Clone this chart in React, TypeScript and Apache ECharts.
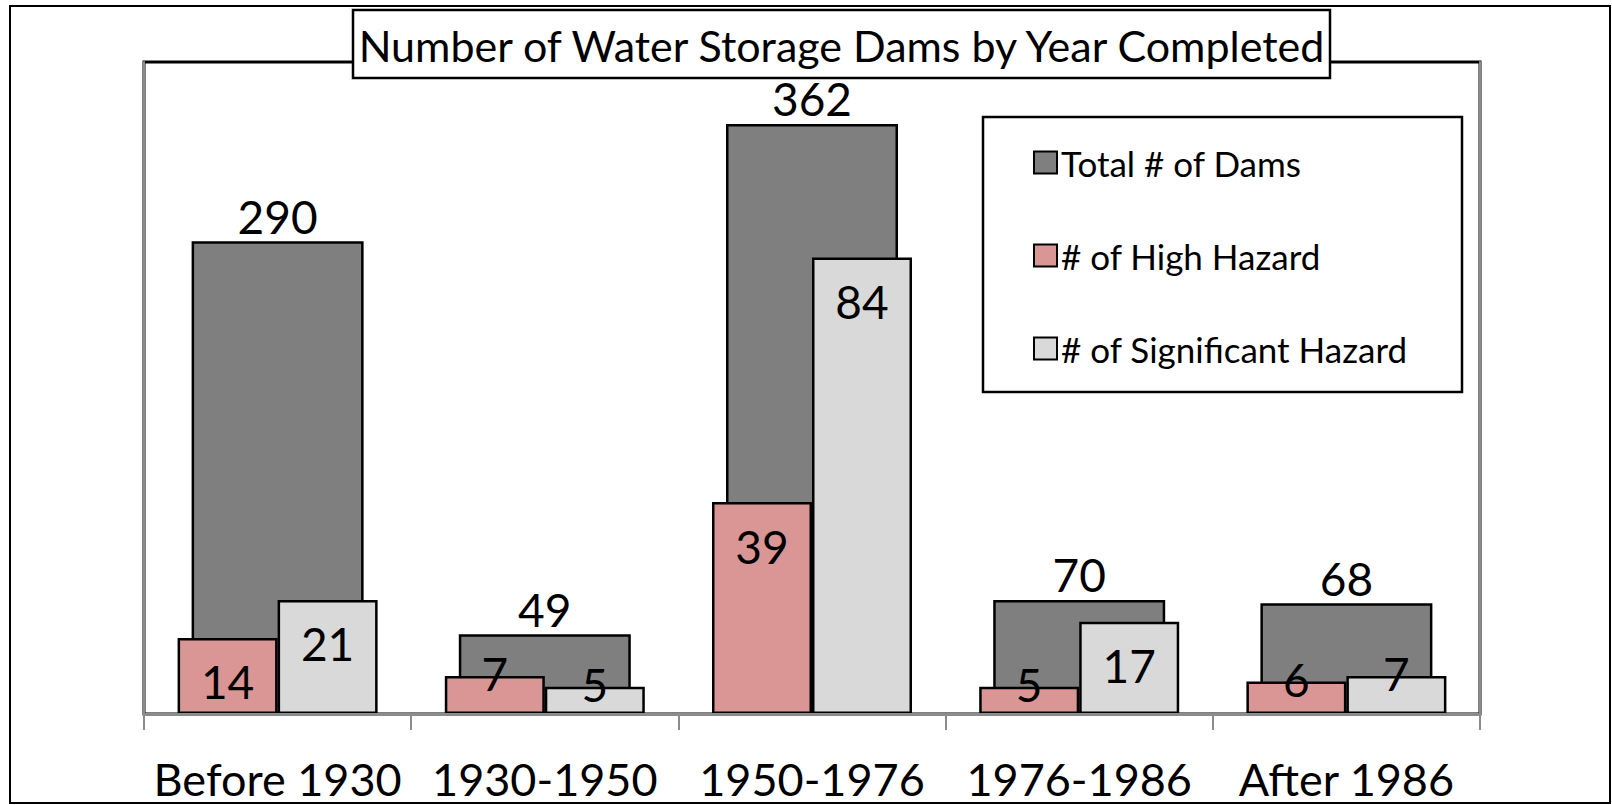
import React, { useEffect, useRef } from "react";
import * as echarts from "echarts";

const categories = ["Before 1930", "1930-1950", "1950-1976", "1976-1986", "After 1986"];
const totalDams = [290, 49, 362, 70, 68];
const highHazard = [14, 7, 39, 5, 6];
const significantHazard = [21, 5, 84, 17, 7];
const titleText = "Number of Water Storage Dams by Year Completed";

const FONT = "Lato";
const AXIS_GRAY = "#8c8c8c";

function hazardData(values: number[]) {
  return values.map((v) =>
    v < 10 ? { value: v, label: { offset: [0, -46] } } : { value: v }
  );
}

export default function App() {
  const ref = useRef<HTMLDivElement>(null);
  useEffect(() => {
    document.body.style.margin = "0";
    const chart = echarts.init(ref.current!, undefined, { renderer: "svg" });
    const hazardLabel = {
      show: true,
      position: "insideTop",
      distance: 21,
      fontSize: 46,
      fontFamily: FONT,
      color: "#000",
    };
    chart.setOption({
      animation: false,
      backgroundColor: "#fff",
      grid: {
        left: 144,
        right: 132,
        top: 62,
        bottom: 91,
        show: true,
        borderColor: "#000",
        borderWidth: 3,
        backgroundColor: "transparent",
      },
      xAxis: [
        {
          type: "category",
          data: categories,
          axisLine: { show: true, lineStyle: { color: AXIS_GRAY, width: 3 } },
          axisTick: { show: true, length: 16, lineStyle: { color: AXIS_GRAY, width: 2 } },
          axisLabel: {
            interval: 0,
            margin: 42,
            fontSize: 45,
            fontFamily: FONT,
            color: "#000",
          },
          z: 5,
        },
        {
          type: "category",
          data: categories,
          show: false,
        },
      ],
      yAxis: [
        {
          type: "value",
          min: 0,
          max: 400,
          axisLine: { show: true, lineStyle: { color: AXIS_GRAY, width: 2 } },
          axisTick: { show: false },
          axisLabel: { show: false },
          splitLine: { show: false },
          z: 5,
        },
        {
          type: "value",
          min: 0,
          max: 120,
          position: "right",
          axisLine: { show: true, lineStyle: { color: AXIS_GRAY, width: 2 } },
          axisTick: { show: false },
          axisLabel: { show: false },
          splitLine: { show: false },
          z: 5,
        },
      ],
      legend: {
        orient: "vertical",
        left: 1033,
        top: 145,
        padding: 0,
        itemWidth: 23,
        itemHeight: 22,
        itemGap: 58,
        icon: "rect",
        z: 20,
        itemStyle: { borderColor: "#000", borderWidth: 2 },
        textStyle: { fontSize: 35, fontFamily: FONT, color: "#000", lineHeight: 34, padding: [0, 0, 0, -1] },
        data: ["Total # of Dams", "# of High Hazard", "# of Significant Hazard"],
      },
      graphic: [
        {
          type: "rect",
          z: 1,
          shape: { x: 10, y: 6, width: 1600, height: 797 },
          style: { fill: "none", stroke: "#000", lineWidth: 2 },
        },
        {
          type: "rect",
          z: 10,
          shape: { x: 353, y: 10, width: 977, height: 68 },
          style: { fill: "#fff", stroke: "#000", lineWidth: 2.5 },
        },
        {
          type: "text",
          z: 11,
          x: 841.5,
          y: 45,
          style: {
            text: titleText,
            fontSize: 43,
            fontFamily: FONT,
            fill: "#000",
            align: "center",
            verticalAlign: "middle",
          },
        },
        {
          type: "rect",
          z: 10,
          shape: { x: 983, y: 117, width: 479, height: 275 },
          style: { fill: "#fff", stroke: "#000", lineWidth: 2.5 },
        },
      ],
      series: [
        {
          name: "Total # of Dams",
          type: "bar",
          xAxisIndex: 0,
          yAxisIndex: 0,
          data: totalDams,
          barWidth: 172,
          itemStyle: { color: "#7f7f7f", borderColor: "#000", borderWidth: 2.5 },
          label: {
            show: true,
            position: "top",
            distance: 2,
            fontSize: 46,
            fontFamily: FONT,
            color: "#000",
          },
          z: 2,
        },
        {
          name: "# of High Hazard",
          type: "bar",
          xAxisIndex: 1,
          yAxisIndex: 1,
          data: hazardData(highHazard),
          barWidth: 100,
          barGap: "0%",
          itemStyle: { color: "#d99694", borderColor: "#000", borderWidth: 2.5 },
          label: hazardLabel,
          z: 3,
        },
        {
          name: "# of Significant Hazard",
          type: "bar",
          xAxisIndex: 1,
          yAxisIndex: 1,
          data: hazardData(significantHazard),
          barWidth: 100,
          barGap: "0%",
          itemStyle: { color: "#d9d9d9", borderColor: "#000", borderWidth: 2.5 },
          label: hazardLabel,
          z: 3,
        },
      ],
    });
    return () => chart.dispose();
  }, []);
  return <div ref={ref} style={{ width: 1612, height: 805 }} />;
}
